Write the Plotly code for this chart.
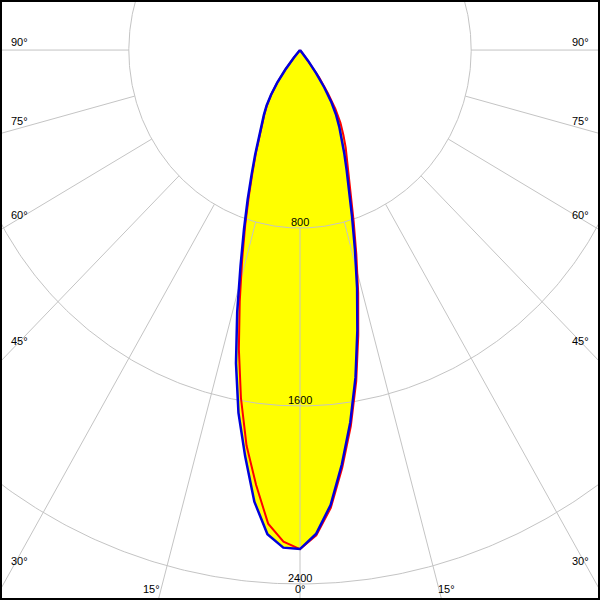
import numpy as np
import plotly.graph_objects as go

# gamma angles (deg) of the intensity table, 2 deg step
angles = list(range(0, 92, 2))

# luminous intensity (cd) per half-plane
blue_left = [2243, 2238, 2182, 2041, 1843, 1656, 1439, 1213, 1008, 847, 715, 604,
             516, 443, 384, 338, 295, 242, 182, 111, 45, 10, 0,
             0, 0, 0, 0, 0, 0, 0, 0, 0, 0, 0, 0, 0, 0, 0, 0, 0, 0, 0, 0, 0, 0, 0]
blue_right = [2243, 2175, 2050, 1872, 1689, 1494, 1289, 1103, 931, 787, 672, 582,
              509, 447, 391, 338, 277, 203, 128, 62, 19, 0, 0,
              0, 0, 0, 0, 0, 0, 0, 0, 0, 0, 0, 0, 0, 0, 0, 0, 0, 0, 0, 0, 0, 0, 0]
red_left = [2243, 2211, 2134, 1965, 1795, 1589, 1374, 1164, 981, 829, 699, 592,
            507, 436, 378, 333, 290, 238, 178, 107, 42, 9, 0,
            0, 0, 0, 0, 0, 0, 0, 0, 0, 0, 0, 0, 0, 0, 0, 0, 0, 0, 0, 0, 0, 0, 0]
red_right = [2243, 2183, 2063, 1888, 1707, 1513, 1310, 1124, 955, 812, 698, 608,
             545, 487, 432, 378, 312, 232, 150, 72, 22, 0, 0,
             0, 0, 0, 0, 0, 0, 0, 0, 0, 0, 0, 0, 0, 0, 0, 0, 0, 0, 0, 0, 0, 0, 0]

ring_values = [800, 1600, 2400]
ring_labels = ["800", "1600", "2400"]
spoke_angles = [-90, -75, -60, -45, -30, -15, 0, 15, 30, 45, 60, 75, 90]
side_labels = ["90°", "75°", "60°", "45°", "30°"]
side_label_px = [42, 121, 215, 341, 561]
bottom_labels = ["15°", "0°", "15°"]
bottom_label_px = [151, 300, 446]

X_RANGE = [-1402, 1402]
Y_RANGE = [-2472, 225]


def curve_xy(left, right):
    a = np.radians(np.array(angles, dtype=float))
    L = np.array(left, dtype=float)
    R = np.array(right, dtype=float)
    xl = -L * np.sin(a)
    yl = -L * np.cos(a)
    xr = R * np.sin(a)
    yr = -R * np.cos(a)
    x = np.concatenate([xl[::-1], xr[1:]])
    y = np.concatenate([yl[::-1], yr[1:]])
    return x, y


bx, by = curve_xy(blue_left, blue_right)
rx, ry = curve_xy(red_left, red_right)

fig = go.Figure()

# yellow fill
for cx, cy in [(bx, by), (rx, ry)]:
    fig.add_trace(go.Scatter(x=cx, y=cy, mode="lines", fill="toself",
                             fillcolor="#ffff00", line=dict(width=0, color="#ffff00"),
                             hoverinfo="skip", showlegend=False))

# grid rings
t = np.linspace(0, 2 * np.pi, 721)
for rv in ring_values:
    fig.add_trace(go.Scatter(x=rv * np.sin(t), y=rv * np.cos(t), mode="lines",
                             line=dict(color="#c4c4c4", width=1),
                             hoverinfo="skip", showlegend=False))

# spokes starting at first ring
sx, sy = [], []
for ang in spoke_angles:
    a = np.radians(ang)
    for rv in (ring_values[0], 5000):
        sx.append(rv * np.sin(a))
        sy.append(-rv * np.cos(a))
    sx.append(None)
    sy.append(None)
fig.add_trace(go.Scatter(x=sx, y=sy, mode="lines", line=dict(color="#c4c4c4", width=1),
                         hoverinfo="skip", showlegend=False))

# curves
fig.add_trace(go.Scatter(x=rx, y=ry, mode="lines", line=dict(color="#ff0000", width=2),
                         name="C90-C270", showlegend=False))
fig.add_trace(go.Scatter(x=bx, y=by, mode="lines", line=dict(color="#0000dc", width=2.5),
                         name="C0-C180", showlegend=False))

font = dict(family="Liberation Sans, Arial, sans-serif", size=11, color="black")
ann = []
for rv, lab in zip(ring_values, ring_labels):
    ann.append(dict(x=0, y=-rv, xref="x", yref="y", text=lab, showarrow=False,
                    xanchor="center", yanchor="middle", yshift=6, font=font))
for lab, py in zip(side_labels, side_label_px):
    ann.append(dict(x=9 / 600, y=1 - py / 600, xref="paper", yref="paper", text=lab,
                    showarrow=False, xanchor="left", yanchor="middle", font=font))
    ann.append(dict(x=591 / 600, y=1 - py / 600, xref="paper", yref="paper", text=lab,
                    showarrow=False, xanchor="right", yanchor="middle", font=font))
for lab, px in zip(bottom_labels, bottom_label_px):
    ann.append(dict(x=px / 600, y=1 - 589 / 600, xref="paper", yref="paper", text=lab,
                    showarrow=False, xanchor="center", yanchor="middle", font=font))

fig.update_layout(
    width=600, height=600,
    margin=dict(l=0, r=0, t=0, b=0),
    paper_bgcolor="white", plot_bgcolor="white",
    xaxis=dict(range=X_RANGE, visible=False, fixedrange=True),
    yaxis=dict(range=Y_RANGE, visible=False, fixedrange=True),
    annotations=ann,
    shapes=[dict(type="rect", xref="paper", yref="paper", x0=0, y0=0, x1=1, y1=1,
                 line=dict(color="black", width=4), layer="above")],
)

fig.write_html(
    "out.html",
    config={"displayModeBar": False},
    post_script="document.body.style.margin='0';document.body.style.overflow='hidden';",
)
